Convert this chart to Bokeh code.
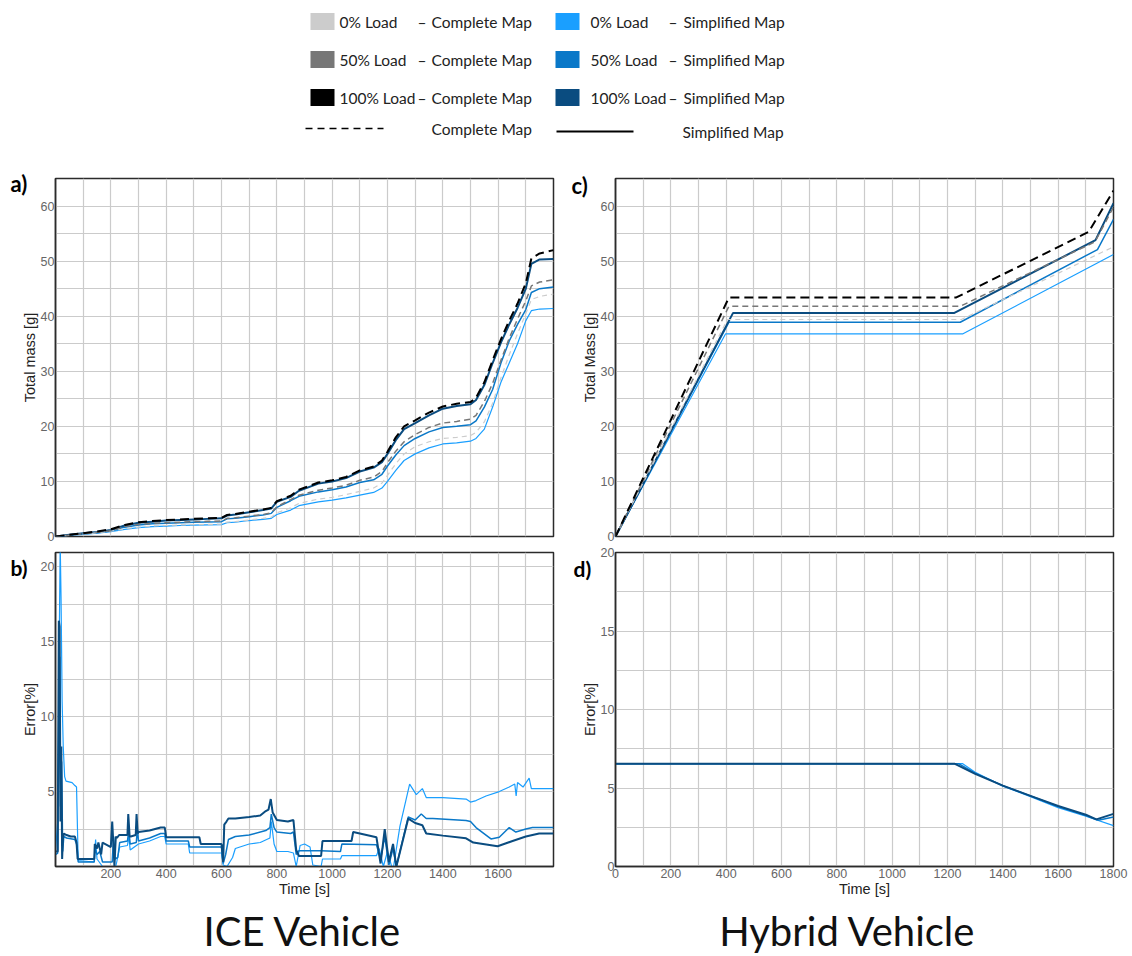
from bokeh.plotting import figure
from bokeh.layouts import column, row
from bokeh.models import Range1d, FixedTicker, Label
from bokeh.embed import file_html
from bokeh.resources import INLINE
from bokeh.core.properties import value

# ---------------------------------------------------------------- colours
FULL_COLORS = ["#cccccc", "#777777", "#000000"]      # 0 %, 50 %, 100 % load, complete map
SIMP_COLORS = ["#1a9fff", "#0a78c8", "#0a4c80"]      # 0 %, 50 %, 100 % load, simplified map

LOAD_NAMES = ["0% Load", "50% Load", "100% Load"]
MAP_NAMES = ["Complete Map", "Simplified Map"]
PANEL_TAGS = ["a)", "b)", "c)", "d)"]
VEHICLES = ["ICE Vehicle", "Hybrid Vehicle"]

# ---------------------------------------------------------------- ICE vehicle, cumulative mass [g]
ICE_T = [0, 50, 100, 150, 200, 250, 300, 350, 400, 450, 500, 550, 600, 620, 650,
         700, 750, 780, 800, 850, 880, 950, 1000, 1050, 1100, 1150, 1180, 1200, 1230, 1260,
         1300, 1350, 1400, 1450, 1500, 1520, 1550, 1580, 1610, 1640, 1670, 1700, 1720, 1750, 1800]
ICE_SIMP_100 = [0, 0.3, 0.6, 0.8, 1.2, 2.0, 2.5, 2.7, 2.9, 3.0, 3.1, 3.2, 3.3, 3.8, 4.0,
                4.4, 4.8, 5.1, 6.3, 7.2, 8.3, 9.6, 10.0, 10.6, 11.8, 12.5, 13.5, 15.0, 17.5, 19.5,
                20.6, 22.0, 23.2, 23.7, 24.0, 24.8, 27.5, 31.5, 35.2, 38.5, 41.5, 45.0, 49.5, 50.3, 50.4]
ICE_FULL_100 = [0, 0.3, 0.6, 0.9, 1.3, 2.1, 2.6, 2.8, 3.0, 3.1, 3.2, 3.3, 3.4, 3.9, 4.1,
                4.5, 4.9, 5.2, 6.4, 7.4, 8.5, 9.8, 10.2, 10.8, 12.0, 12.7, 13.8, 15.4, 18.0, 20.0,
                21.1, 22.5, 23.6, 24.1, 24.4, 25.2, 28.0, 32.0, 35.8, 39.2, 42.3, 46.0, 50.5, 51.4, 52.0]
ICE_SIMP_50 = [0, 0.25, 0.5, 0.7, 1.0, 1.7, 2.1, 2.3, 2.4, 2.5, 2.6, 2.65, 2.7, 3.2, 3.3,
               3.6, 3.9, 4.2, 5.3, 6.5, 7.3, 8.1, 8.5, 9.0, 9.8, 10.3, 11.3, 12.8, 14.8, 16.5,
               17.8, 19.0, 19.8, 20.0, 20.3, 21.0, 23.5, 26.7, 31.5, 35.5, 38.5, 41.2, 44.3, 45.0, 45.3]
ICE_FULL_50 = [0, 0.25, 0.5, 0.75, 1.05, 1.8, 2.2, 2.4, 2.5, 2.6, 2.7, 2.75, 2.8, 3.3, 3.4,
               3.7, 4.0, 4.3, 5.4, 6.7, 7.5, 8.4, 8.8, 9.3, 10.2, 10.8, 11.8, 13.4, 15.5, 17.2,
               18.5, 19.8, 20.6, 20.9, 21.3, 22.0, 24.5, 27.8, 32.0, 36.0, 39.5, 42.8, 45.5, 46.2, 46.6]
ICE_SIMP_0 = [0, 0.2, 0.4, 0.6, 0.9, 1.3, 1.6, 1.8, 1.9, 2.0, 2.05, 2.1, 2.15, 2.5, 2.6,
              2.9, 3.1, 3.3, 4.0, 4.8, 5.6, 6.3, 6.6, 7.0, 7.5, 8.0, 8.8, 10.0, 12.0, 13.8,
              15.0, 16.1, 16.8, 17.0, 17.3, 17.8, 19.5, 23.5, 28.0, 31.5, 35.0, 39.2, 41.0, 41.3, 41.4]
ICE_FULL_0 = [0, 0.2, 0.45, 0.65, 0.95, 1.4, 1.7, 1.9, 2.0, 2.1, 2.15, 2.2, 2.25, 2.6, 2.7,
              3.0, 3.3, 3.5, 4.3, 5.2, 6.0, 6.8, 7.1, 7.6, 8.2, 8.8, 9.7, 11.1, 13.2, 15.0,
              16.3, 17.2, 17.8, 18.0, 18.3, 18.9, 20.8, 24.2, 28.8, 33.0, 36.8, 40.5, 43.0, 43.6, 44.0]

# ---------------------------------------------------------------- ICE vehicle, error of simplified map [%] as (time, error)
ICE_ERR_100 = [(0, 1.0), (8, 1.0), (12, 16.4), (15, 16.0), (18, 3.0), (21, 8.0), (24, 0.5), (27, 2.0),
               (30, 2.2), (40, 2.1), (55, 2.0), (70, 2.0), (76, 1.6), (80, 0.5), (140, 0.5), (142, 1.5),
               (150, 1.2), (155, 1.6), (165, 0.8), (170, 1.6), (200, 1.3), (205, 3.0), (210, 1.2), (213, 0.0),
               (218, 2.0), (222, 1.9), (230, 2.1), (260, 2.1), (263, 3.5), (268, 2.0), (272, 2.0), (290, 2.1),
               (293, 3.5), (297, 2.2), (300, 2.3), (340, 2.4), (380, 2.6), (395, 2.6), (400, 1.95), (520, 1.95),
               (525, 1.5), (600, 1.5), (606, 0.3), (610, 2.8), (618, 3.0), (625, 3.2), (650, 3.2), (700, 3.3),
               (740, 3.4), (760, 3.7), (770, 3.8), (778, 4.5), (785, 3.6), (800, 3.1), (840, 3.0), (860, 3.1),
               (870, 1.1), (880, 0.7), (960, 0.7), (965, 1.7), (1070, 1.7), (1076, 2.3), (1160, 1.95),
               (1175, 0.2), (1190, 2.5), (1205, 0.3), (1220, 1.5), (1232, 0.0), (1275, 3.2), (1300, 2.9),
               (1326, 2.75), (1340, 2.2), (1400, 2.06), (1484, 1.88), (1510, 1.6), (1598, 1.35), (1652, 1.7),
               (1700, 2.0), (1748, 2.2), (1800, 2.2)]
ICE_ERR_50 = [(0, 0.8), (8, 0.9), (12, 9.0), (15, 14.0), (18, 4.0), (22, 7.0), (26, 1.0), (30, 2.0),
              (40, 1.9), (70, 1.8), (78, 1.4), (82, 0.3), (140, 0.3), (143, 1.2), (150, 0.8), (160, 1.0),
              (170, 0.3), (205, 0.3), (210, 2.0), (215, 0.5), (225, 0.6), (232, 1.6), (260, 1.7), (265, 2.4),
              (270, 1.5), (292, 1.6), (296, 2.5), (300, 1.7), (340, 1.9), (380, 2.2), (395, 2.2), (400, 1.7),
              (480, 1.7), (485, 1.3), (600, 1.3), (606, 0.2), (615, 0.8), (625, 1.8), (650, 2.0), (700, 2.1),
              (760, 2.4), (775, 2.6), (780, 3.5), (790, 2.6), (800, 2.3), (850, 2.2), (860, 2.3), (870, 0.8),
              (880, 1.05), (960, 1.05), (1030, 1.0), (1035, 1.5), (1160, 1.45), (1175, 0.5), (1190, 2.0),
              (1205, 0.1), (1220, 1.2), (1232, 0.0), (1275, 3.3), (1300, 3.1), (1322, 3.5), (1340, 3.2),
              (1364, 3.2), (1484, 3.07), (1500, 3.0), (1520, 2.6), (1574, 1.84), (1604, 1.95), (1640, 2.6),
              (1664, 2.3), (1700, 2.5), (1724, 2.6), (1800, 2.6)]
ICE_ERR_0 = [(0, 1.0), (8, 3.0), (13, 14.0), (17, 21.5), (20, 18.0), (24, 11.0), (28, 8.0), (33, 6.0),
             (38, 5.7), (60, 5.6), (70, 5.4), (76, 5.3), (82, 0.4), (140, 0.3), (145, 1.8), (150, 0.5),
             (170, 0.0), (218, 0.0), (232, 1.3), (260, 1.4), (265, 2.0), (270, 1.1), (300, 1.5), (340, 1.7),
             (380, 2.0), (395, 2.0), (400, 1.5), (480, 1.5), (485, 0.9), (600, 0.9), (606, 0.1), (620, 0.0),
             (640, 0.6), (650, 1.2), (700, 1.5), (740, 1.6), (775, 1.9), (780, 3.0), (790, 1.5), (800, 1.0),
             (840, 1.0), (860, 0.9), (870, 0.0), (884, 1.4), (900, 1.5), (920, 1.3), (930, 0.1), (960, 0.0),
             (965, 0.5), (1030, 0.5), (1035, 0.72), (1160, 0.72), (1170, 1.2), (1185, 0.0), (1200, 1.0),
             (1215, 0.0), (1222, 0.0), (1245, 2.7), (1280, 5.5), (1304, 4.8), (1326, 5.2), (1340, 4.6),
             (1400, 4.6), (1484, 4.5), (1500, 4.3), (1520, 4.4), (1556, 4.7), (1604, 5.0), (1640, 5.3),
             (1660, 5.5), (1665, 4.7), (1670, 5.6), (1690, 5.3), (1712, 5.9), (1720, 5.2), (1800, 5.2)]

# ---------------------------------------------------------------- hybrid vehicle, cumulative mass [g]
HYB_SIMP_100 = [(0, 0), (425, 40.6), (1225, 40.6), (1735, 53.8), (1800, 60.5)]
HYB_SIMP_50 = [(0, 0), (410, 38.9), (1246, 38.9), (1742, 52.1), (1800, 57.6)]
HYB_SIMP_0 = [(0, 0), (398, 36.8), (1256, 36.8), (1800, 51.2)]
HYB_FULL_100 = [(0, 0), (410, 43.4), (1232, 43.4), (1710, 55.3), (1800, 62.8)]
HYB_FULL_50 = [(0, 0), (410, 41.8), (1246, 41.8), (1733, 53.5), (1800, 59.8)]
HYB_FULL_0 = [(0, 0), (405, 39.4), (1250, 39.4), (1800, 52.6)]

# ---------------------------------------------------------------- hybrid vehicle, error [%]
HYB_ERR_100 = [(0, 6.55), (1225, 6.55), (1300, 5.9), (1400, 5.15), (1500, 4.5), (1600, 3.85),
               (1700, 3.3), (1738, 3.0), (1800, 3.35)]
HYB_ERR_50 = [(0, 6.55), (1240, 6.55), (1300, 5.95), (1400, 5.15), (1500, 4.5), (1600, 3.82),
              (1700, 3.25), (1745, 2.95), (1800, 3.15)]
HYB_ERR_0 = [(0, 6.55), (1255, 6.55), (1300, 6.0), (1400, 5.12), (1500, 4.45), (1600, 3.75),
             (1700, 3.2), (1800, 2.6)]

TICK_FONT = "Liberation Sans"
TEXT_FONT = "Lato"
FRAME = "#2b2b2b"
GRID = "#cbcbcb"


def xy(pairs):
    return [p[0] for p in pairs], [p[1] for p in pairs]


def panel(width, height, ymax, ylabel, yticks, ystep, left, right, top, bottom, xticks=None):
    p = figure(width=width, height=height, x_range=Range1d(0, 1800), y_range=Range1d(0, ymax),
               output_backend="svg", toolbar_location=None,
               min_border_left=left, min_border_right=right,
               min_border_top=top, min_border_bottom=bottom)
    p.background_fill_color = "white"
    p.border_fill_color = "white"
    p.outline_line_color = FRAME
    p.outline_line_width = 1.5

    p.xgrid.ticker = FixedTicker(ticks=list(range(0, 1801, 100)))
    n = int(ymax / ystep) + 1
    p.ygrid.ticker = FixedTicker(ticks=[i * ystep for i in range(n)])
    for g in (p.xgrid, p.ygrid):
        g.grid_line_color = GRID
        g.grid_line_width = 1.2

    ax = p.yaxis[0]
    ax.ticker = FixedTicker(ticks=yticks)
    ax.axis_label = ylabel
    ax.axis_label_text_font = TICK_FONT
    ax.axis_label_text_font_size = "14.5px"
    ax.axis_label_text_font_style = "normal"
    ax.axis_label_text_color = "#222222"
    ax.axis_label_standoff = 0
    ax.major_label_text_font = TICK_FONT
    ax.major_label_text_font_size = "12.5px"
    ax.major_label_text_color = "#666666"
    ax.major_label_standoff = 1
    ax.major_tick_out = 0
    ax.major_tick_in = 0
    ax.minor_tick_out = 0
    ax.minor_tick_in = 0
    ax.major_tick_line_color = None
    ax.minor_tick_line_color = None
    ax.axis_line_color = FRAME
    ax.axis_line_width = 1.5

    if xticks is None:
        p.xaxis.visible = False
    else:
        xa = p.xaxis[0]
        xa.ticker = FixedTicker(ticks=xticks)
        xa.axis_label = "Time [s]"
        xa.axis_label_text_font = TICK_FONT
        xa.axis_label_text_font_size = "14.5px"
        xa.axis_label_text_font_style = "normal"
        xa.axis_label_text_color = "#222222"
        xa.axis_label_standoff = 0
        xa.major_label_text_font = TICK_FONT
        xa.major_label_text_font_size = "12.5px"
        xa.major_label_text_color = "#666666"
        xa.major_label_standoff = 2
        xa.major_tick_out = 0
        xa.major_tick_in = 0
        xa.minor_tick_out = 0
        xa.minor_tick_in = 0
        xa.major_tick_line_color = None
        xa.minor_tick_line_color = None
        xa.axis_line_color = FRAME
        xa.axis_line_width = 1.5
    return p


def tag(p, text, x, y, side, size="22px"):
    # panel letter in canvas pixels; living in a side panel keeps it unclipped by the frame
    p.add_layout(Label(x=x, y=y, x_units="canvas", y_units="canvas", text=text,
                       text_font=TEXT_FONT, text_font_size=size,
                       text_font_style="bold", text_baseline="middle", text_align="left",
                       text_color="#000000"), side)


SIMP_W = [1.2, 1.5, 2.0]
FULL_W = [1.2, 1.5, 2.0]
FULL_DASH = ["5 4", "6 4", "9 5"]

# ---------------------------------------------------------------- a) ICE total mass
pa = panel(555, 394, 65, "Total mass [g]", list(range(0, 61, 10)), 5,
           left=55, right=2, top=28, bottom=8)
for ys, c, w in zip([ICE_SIMP_0, ICE_SIMP_50, ICE_SIMP_100], SIMP_COLORS, SIMP_W):
    pa.line(ICE_T, ys, line_color=c, line_width=w)
for ys, c, w, d in zip([ICE_FULL_0, ICE_FULL_50, ICE_FULL_100], FULL_COLORS, FULL_W, FULL_DASH):
    pa.line(ICE_T, ys, line_color=c, line_width=w, line_dash=d)
tag(pa, PANEL_TAGS[0], 10, 33, "above")

# ---------------------------------------------------------------- b) ICE error
pb = panel(555, 356, 20.95, "Error[%]", [5, 10, 15, 20], 2.5,
           left=55, right=2, top=8, bottom=34, xticks=list(range(200, 1601, 200)))
for pairs, c, w in zip([ICE_ERR_0, ICE_ERR_50, ICE_ERR_100], SIMP_COLORS, SIMP_W):
    t, e = xy(pairs)
    pb.line(t, e, line_color=c, line_width=w)
tag(pb, PANEL_TAGS[1], 10, 23, "left", "21px")

# ---------------------------------------------------------------- c) hybrid total mass
pc = panel(577, 394, 65, "Total Mass [g]", list(range(0, 61, 10)), 5,
           left=60, right=19, top=28, bottom=8)
for pairs, c, w in zip([HYB_SIMP_0, HYB_SIMP_50, HYB_SIMP_100], SIMP_COLORS, SIMP_W):
    t, m = xy(pairs)
    pc.line(t, m, line_color=c, line_width=w)
for pairs, c, w, d in zip([HYB_FULL_0, HYB_FULL_50, HYB_FULL_100], FULL_COLORS, FULL_W, FULL_DASH):
    t, m = xy(pairs)
    pc.line(t, m, line_color=c, line_width=w, line_dash=d)
tag(pc, PANEL_TAGS[2], 16, 35, "above")

# ---------------------------------------------------------------- d) hybrid error
pd = panel(577, 356, 20, "Error[%]", [0, 5, 10, 15, 20], 2.5,
           left=60, right=19, top=8, bottom=34, xticks=list(range(0, 1801, 200)))
for pairs, c, w in zip([HYB_ERR_0, HYB_ERR_50, HYB_ERR_100], SIMP_COLORS, SIMP_W):
    t, e = xy(pairs)
    pd.line(t, e, line_color=c, line_width=w)
tag(pd, PANEL_TAGS[3], 18, 24, "left", "21px")


def blank(width, height):
    p = figure(width=width, height=height, x_range=Range1d(0, width), y_range=Range1d(height, 0),
               output_backend="svg", toolbar_location=None,
               x_axis_location=None, y_axis_location=None,
               min_border=0, min_border_left=0, min_border_right=0,
               min_border_top=0, min_border_bottom=0)
    p.grid.visible = False
    p.outline_line_color = None
    p.background_fill_color = "white"
    p.border_fill_color = "white"
    return p


# ---------------------------------------------------------------- legend
LEG_FONT = value("15.5px")
leg = blank(1132, 150)
row_y = [21, 59, 97]
cols = [
    dict(sw=310, load=339, dash=417, name=431, colors=FULL_COLORS, name_text=MAP_NAMES[0]),
    dict(sw=555, load=590, dash=668, name=683, colors=SIMP_COLORS, name_text=MAP_NAMES[1]),
]
for col in cols:
    leg.quad(left=[col["sw"]] * 3, right=[col["sw"] + 24] * 3,
             top=[y - 8.5 for y in row_y], bottom=[y + 8.5 for y in row_y],
             fill_color=col["colors"], line_color=None)
    leg.text(x=[col["load"]] * 3, y=row_y, text=LOAD_NAMES,
             text_font=value(TEXT_FONT), text_font_size=LEG_FONT,
             text_baseline="middle", text_color="#222222")
    leg.text(x=[col["dash"]] * 3, y=row_y, text=["–"] * 3,
             text_font=value(TEXT_FONT), text_font_size=LEG_FONT,
             text_baseline="middle", text_color="#222222")
    leg.text(x=[col["name"]] * 3, y=row_y, text=[col["name_text"]] * 3,
             text_font=value(TEXT_FONT), text_font_size=LEG_FONT,
             text_baseline="middle", text_color="#222222")

leg.line([305, 383], [128, 128], line_color="#000000", line_width=1.6, line_dash="7 5")
leg.line([556, 633], [131, 131], line_color="#000000", line_width=2.0)
leg.text(x=[431, 682], y=[128, 131], text=MAP_NAMES,
         text_font=value(TEXT_FONT), text_font_size=LEG_FONT,
         text_baseline="middle", text_color="#222222")

# ---------------------------------------------------------------- vehicle captions
cap = blank(1132, 56)
cap.text(x=[302, 847], y=[30, 30], text=VEHICLES,
         text_font=value(TEXT_FONT), text_font_size=value("40px"),
         text_baseline="middle", text_align="center", text_color="#111111")

layout = column(leg, row(pa, pc, spacing=0), row(pb, pd, spacing=0), cap, spacing=0)

with open("out.html", "w") as f:
    f.write(file_html(layout, INLINE))
